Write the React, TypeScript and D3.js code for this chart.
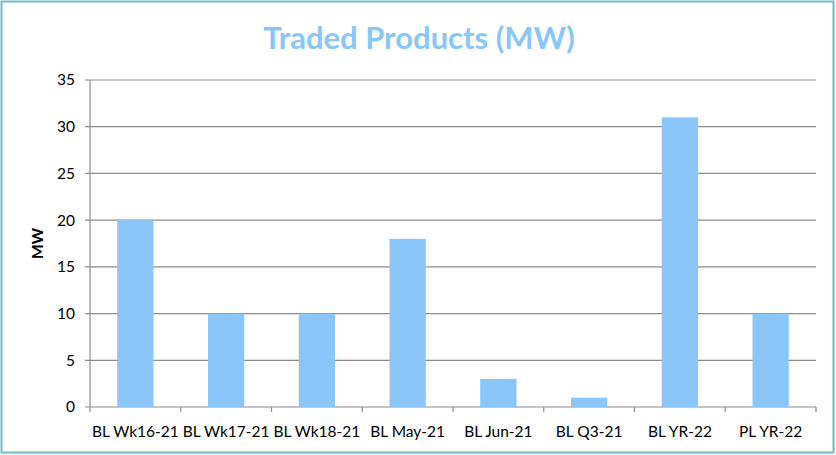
import React from "react";
import * as d3 from "d3";

const categories = [
  "BL Wk16-21",
  "BL Wk17-21",
  "BL Wk18-21",
  "BL May-21",
  "BL Jun-21",
  "BL Q3-21",
  "BL YR-22",
  "PL YR-22",
];
const values = [20, 10, 10, 18, 3, 1, 31, 10];
const yTicks = [0, 5, 10, 15, 20, 25, 30, 35];

const W = 836;
const H = 455;
const left = 90;
const right = 816;
const top = 80;
const bottom = 407;
const font = "Lato, 'Open Sans', sans-serif";

export default function App() {
  const x = d3.scaleBand().domain(categories).range([left, right]).paddingInner(0.6).paddingOuter(0.3);
  const band = (right - left) / categories.length;
  const y = d3.scaleLinear().domain([0, 35]).range([bottom, top]);

  return (
    <svg
      width={W}
      height={H}
      style={{ position: "absolute", left: 0, top: 0, background: "#fff" }}
    >
      <rect x={1.5} y={1.5} width={W - 4} height={H - 4} fill="#fff" stroke="#6cbccb" strokeWidth={2} />
      <text
        x={419}
        y={49}
        textAnchor="middle"
        fontFamily={font}
        fontWeight="bold"
        fontSize={31}
        fill="#8ac6fa"
      >
        Traded Products (MW)
      </text>
      {yTicks.map((t) => (
        <g key={t}>
          <line x1={left - 5} x2={right} y1={y(t)} y2={y(t)} stroke="#8c8c8c" strokeWidth={1.2} />
          <text
            x={left - 15}
            y={y(t)}
            dy="0.35em"
            textAnchor="end"
            fontFamily={font}
            fontSize={15.5}
            fill="#000"
          >
            {t}
          </text>
        </g>
      ))}
      <line x1={left} x2={left} y1={top} y2={bottom} stroke="#8c8c8c" strokeWidth={1.2} />
      {d3.range(categories.length + 1).map((i) => (
        <line
          key={i}
          x1={left + i * band}
          x2={left + i * band}
          y1={bottom}
          y2={bottom + 5}
          stroke="#8c8c8c"
          strokeWidth={1.2}
        />
      ))}
      {categories.map((c, i) => (
        <rect
          key={c}
          x={x(c)}
          y={y(values[i])}
          width={x.bandwidth()}
          height={bottom - y(values[i])}
          fill="#8ac6fa"
        />
      ))}
      {categories.map((c, i) => (
        <text
          key={c}
          x={left + (i + 0.5) * band}
          y={437}
          textAnchor="middle"
          fontFamily={font}
          fontSize={15.5}
          fill="#000"
        >
          {c}
        </text>
      ))}
      <text
        transform={`translate(43, ${(top + bottom) / 2}) rotate(-90)`}
        textAnchor="middle"
        fontFamily={font}
        fontWeight="bold"
        fontSize={15.5}
        fill="#000"
      >
        MW
      </text>
    </svg>
  );
}
